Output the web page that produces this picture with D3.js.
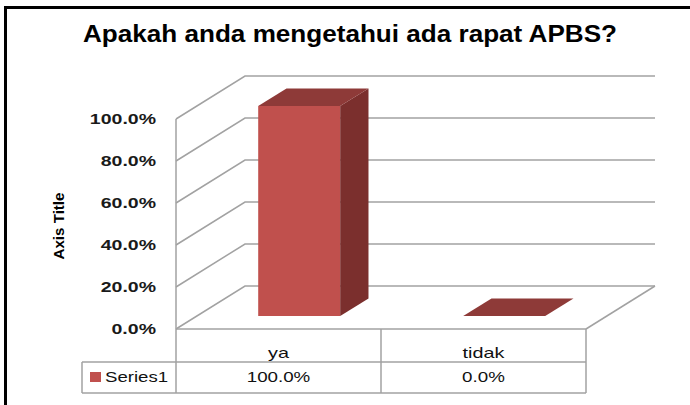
<!DOCTYPE html>
<html>
<head>
<meta charset="utf-8">
<script src="https://cdn.jsdelivr.net/npm/d3@7"></script>
<style>
  body { margin: 0; background: #fff; }
  svg text { font-family: Arial, "Liberation Sans", sans-serif; }
</style>
</head>
<body>
<svg id="svg" width="690" height="405"></svg>
<script>
// chart data
let categories = ['ya', 'tidak'];
let values = [1.0, 0.0];
let yTicks = [0, 0.2, 0.4, 0.6, 0.8, 1.0];
let seriesName = 'Series1';
let chartTitle = 'Apakah anda mengetahui ada rapat APBS?';
let axisTitle = 'Axis Title';

let svg = d3.select('#svg');

// layout of the 3d box (front plane + depth offset)
let plot = { l: 176, r: 586, t: 119, b: 329 };
let depth = { dx: 69, dy: -43 };
let barDepth = [0.3, 0.71];
let table = { l: 82, row1: 362, bottom: 393 };

let gridColor = '#a2a2a2';
let frontColor = '#c0504d', sideColor = '#7b2f2d', topColor = '#8e3a38';

let xScale = d3.scaleBand().domain(categories).range([plot.l, plot.r]);
let yScale = d3.scaleLinear().domain([0, 1]).range([plot.b, plot.t]);
let fmt = d3.format('.1%');

// stretch text horizontally, the picture has wide glyphs
let stretch = (sel, k) => {
    sel.each(function () {
        let w = this.getComputedTextLength();
        d3.select(this).attr('textLength', w * k).attr('lengthAdjust', 'spacingAndGlyphs');
    });
};

// frame
svg.append('rect')
    .attr('x', 5.5).attr('y', 7.5)
    .attr('width', 720).attr('height', 420)
    .attr('fill', 'none').attr('stroke', '#000').attr('stroke-width', 3);

// title
svg.append('text')
    .attr('x', 350).attr('y', 42)
    .attr('text-anchor', 'middle')
    .attr('font-size', '24px').attr('font-weight', 'bold')
    .attr('fill', '#000')
    .text(chartTitle)
    .attr('textLength', 534).attr('lengthAdjust', 'spacingAndGlyphs');

// project a point of the front plane back into the depth
let p = (x, v, t) => [x + t * depth.dx, yScale(v) + t * depth.dy];
let line = d3.line();

// gridlines on left wall and back wall
let grid = svg.append('g');
yTicks.forEach((v) => {
    let y = yScale(v);
    grid.append('path')
        .attr('d', line([[plot.l, y], [plot.l + depth.dx, y + depth.dy], [plot.r + depth.dx, y + depth.dy]]))
        .attr('fill', 'none').attr('stroke', gridColor).attr('stroke-width', 1.5);
});
// left axis edge, floor right edge
grid.append('path')
    .attr('d', line([[plot.l, plot.t], [plot.l, table.bottom]]))
    .attr('stroke', gridColor).attr('stroke-width', 1.5);
grid.append('path')
    .attr('d', line([[plot.r, plot.b], [plot.r + depth.dx, plot.b + depth.dy]]))
    .attr('stroke', gridColor).attr('stroke-width', 1.5);

// y labels
svg.append('g').selectAll('text')
    .data(yTicks)
    .enter()
    .append('text')
    .attr('x', 156)
    .attr('y', (d) => yScale(d) + 5)
    .attr('text-anchor', 'end')
    .attr('font-size', '15px').attr('font-weight', 'bold')
    .attr('fill', '#1a1a1a')
    .text((d) => fmt(d))
    .call(stretch, 1.3);

// axis title
svg.append('text')
    .attr('transform', 'translate(64,226) rotate(-90)')
    .attr('text-anchor', 'middle')
    .attr('font-size', '14px').attr('font-weight', 'bold')
    .attr('fill', '#000')
    .text(axisTitle)
    .attr('textLength', 67).attr('lengthAdjust', 'spacingAndGlyphs');

// bars
let bars = svg.append('g');
categories.forEach((c, i) => {
    let v = values[i];
    let bw = xScale.bandwidth() * 0.4;
    let x0 = xScale(c) + (xScale.bandwidth() - bw) / 2;
    let x1 = x0 + bw;
    let [t0, t1] = barDepth;
    if (v > 0) {
        bars.append('path')
            .attr('d', line([p(x0, 0, t0), p(x1, 0, t0), p(x1, v, t0), p(x0, v, t0)]) + 'Z')
            .attr('fill', frontColor);
        bars.append('path')
            .attr('d', line([p(x1, 0, t0), p(x1, 0, t1), p(x1, v, t1), p(x1, v, t0)]) + 'Z')
            .attr('fill', sideColor);
    }
    bars.append('path')
        .attr('d', line([p(x0, v, t0), p(x1, v, t0), p(x1, v, t1), p(x0, v, t1)]) + 'Z')
        .attr('fill', topColor);
});

// data table
let tbl = svg.append('g');
let hLines = [[plot.l, plot.b, plot.r], [table.l, table.row1, plot.r], [table.l, table.bottom, plot.r]];
hLines.forEach((h) => {
    tbl.append('path').attr('d', line([[h[0], h[1]], [h[2], h[1]]]))
        .attr('stroke', gridColor).attr('stroke-width', 1.5);
});
tbl.append('path').attr('d', line([[table.l, table.row1], [table.l, table.bottom]]))
    .attr('stroke', gridColor).attr('stroke-width', 1.5);
categories.forEach((c) => {
    let xr = xScale(c) + xScale.bandwidth();
    tbl.append('path').attr('d', line([[xr, plot.b], [xr, table.bottom]]))
        .attr('stroke', gridColor).attr('stroke-width', 1.5);
});

tbl.selectAll('.cat')
    .data(categories)
    .enter()
    .append('text')
    .attr('class', 'cat')
    .attr('x', (d) => xScale(d) + xScale.bandwidth() / 2)
    .attr('y', 358)
    .attr('text-anchor', 'middle')
    .attr('font-size', '15px')
    .attr('fill', '#111')
    .text((d) => d)
    .call(stretch, 1.32);

tbl.selectAll('.val')
    .data(values)
    .enter()
    .append('text')
    .attr('class', 'val')
    .attr('x', (d, i) => xScale(categories[i]) + xScale.bandwidth() / 2)
    .attr('y', 382)
    .attr('text-anchor', 'middle')
    .attr('font-size', '15px')
    .attr('fill', '#111')
    .text((d) => fmt(d))
    .call(stretch, 1.25);

// legend key in table
tbl.append('rect')
    .attr('x', 90).attr('y', 372)
    .attr('width', 11).attr('height', 10)
    .attr('fill', frontColor);
tbl.append('text')
    .attr('x', 105).attr('y', 382)
    .attr('font-size', '15px')
    .attr('fill', '#111')
    .text(seriesName)
    .call(stretch, 1.24);
</script>
</body>
</html>
